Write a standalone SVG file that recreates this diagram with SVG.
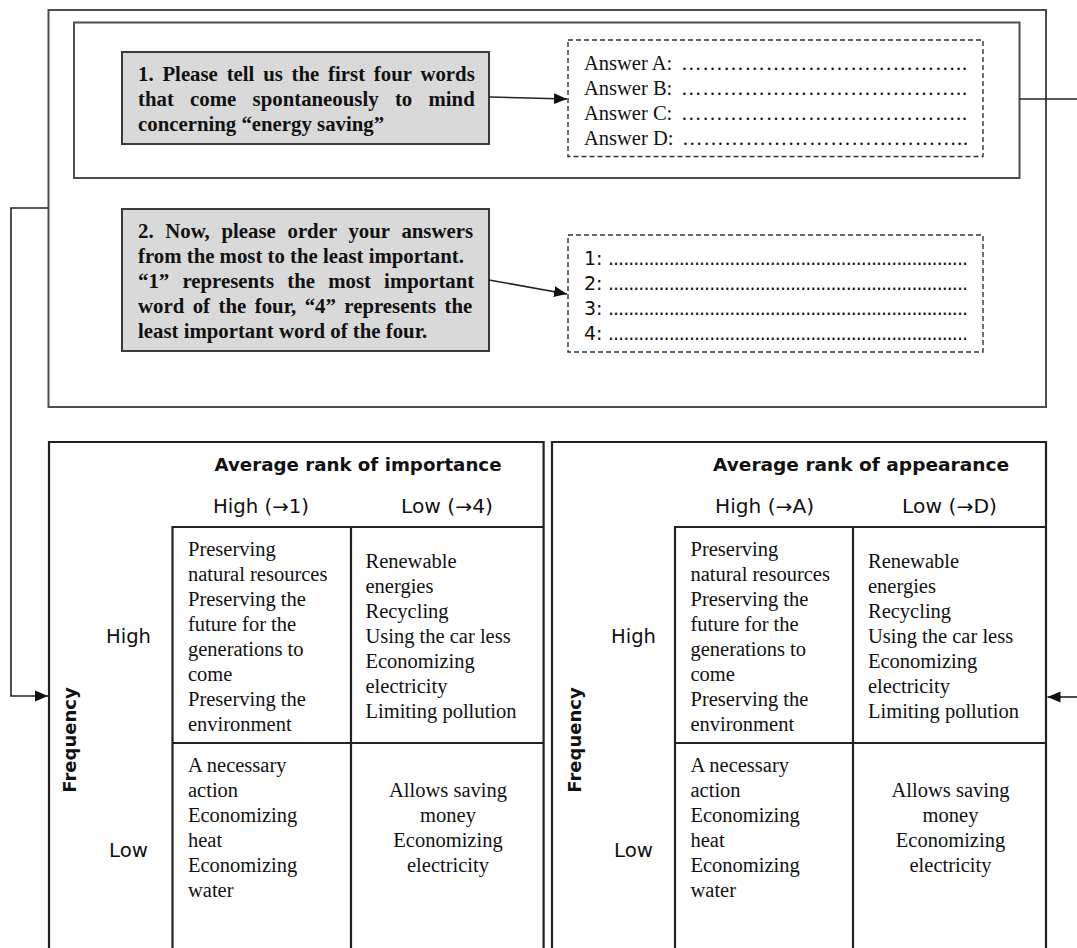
<svg xmlns="http://www.w3.org/2000/svg" width="1077" height="948" viewBox="0 0 1077 948">
<style>
.frame{fill:none;stroke:#4d4d4d;stroke-width:2}
.qbox{fill:#d9d9d9;stroke:#3a3a3a;stroke-width:2}
.dash{fill:none;stroke:#333;stroke-width:1.4;stroke-dasharray:5 3}
.mx{fill:none;stroke:#222;stroke-width:2.2}
.conn{fill:none;stroke:#222;stroke-width:1.6}
.qt{font-family:"Liberation Serif","Times New Roman",serif;font-weight:bold;font-size:20.8px;fill:#111}
.st{font-family:"Liberation Serif","Times New Roman",serif;font-size:20.5px;fill:#111}
.sn{font-family:"DejaVu Sans",Verdana,sans-serif;font-size:19px;fill:#111}
.sb{font-family:"DejaVu Sans",Verdana,sans-serif;font-size:18px;font-weight:bold;fill:#111}
.mid{text-anchor:middle}
</style>
<defs>
<marker id="arr" markerUnits="userSpaceOnUse" markerWidth="14" markerHeight="12" refX="13" refY="6" orient="auto">
<path d="M0,0.5 L13,6 L0,11.5 Z" fill="#111"/>
</marker>
</defs>

<g id="outer-frame">
<rect class="frame" x="48.5" y="10" width="997.5" height="397"/>
</g>

<g id="q1-frame">
<rect class="frame" x="74" y="22.5" width="945.5" height="155.5"/>
</g>

<g id="node-q1">
<rect class="qbox" x="122" y="52" width="367" height="92"/>
<text class="qt" x="138" y="81" word-spacing="3.6">1. Please tell us the first four words</text>
<text class="qt" x="138" y="106" word-spacing="11.1">that come spontaneously to mind</text>
<text class="qt" x="138" y="131">concerning “energy saving”</text>
</g>

<g id="node-answers">
<rect class="dash" x="568" y="40" width="415" height="116.5"/>
<text class="st" x="584" y="69.5">Answer A: <tspan x="681" textLength="286" lengthAdjust="spacing">…………………………………..</tspan></text>
<text class="st" x="584" y="94.5">Answer B: <tspan x="681" textLength="286" lengthAdjust="spacing">…………………………………..</tspan></text>
<text class="st" x="584" y="119.5">Answer C: <tspan x="681" textLength="286" lengthAdjust="spacing">…………………………………..</tspan></text>
<text class="st" x="584" y="144.5">Answer D: <tspan x="682" textLength="286" lengthAdjust="spacing">…………………………………..</tspan></text>
</g>

<g id="node-q2">
<rect class="qbox" x="122" y="209" width="367" height="142"/>
<text class="qt" x="138" y="238" word-spacing="6.5">2. Now, please order your answers</text>
<text class="qt" x="138" y="263">from the most to the least important.</text>
<text class="qt" x="138" y="288" word-spacing="8">“1” represents the most important</text>
<text class="qt" x="138" y="313" word-spacing="3.3">word of the four, “4” represents the</text>
<text class="qt" x="138" y="338">least important word of the four.</text>
</g>

<g id="node-ranks">
<rect class="dash" x="568" y="235" width="415" height="117"/>
<text class="sn" x="584" y="265">1: <tspan x="608" textLength="360" lengthAdjust="spacing">.......................................................................</tspan></text>
<text class="sn" x="584" y="290">2: <tspan x="608" textLength="360" lengthAdjust="spacing">.......................................................................</tspan></text>
<text class="sn" x="584" y="315">3: <tspan x="608" textLength="360" lengthAdjust="spacing">.......................................................................</tspan></text>
<text class="sn" x="584" y="340">4: <tspan x="608" textLength="360" lengthAdjust="spacing">.......................................................................</tspan></text>
</g>

<g id="matrix-importance">
<path class="mx" d="M49,960 V442 H543.6 V960"/>
<path class="mx" d="M172.5,960 V527 H543.6 M351,527 V960 M172.5,743 H543.6"/>
<text class="sb" x="214.5" y="470.5" textLength="287" lengthAdjust="spacingAndGlyphs">Average rank of importance</text>
<text class="sn" x="213" y="513" textLength="96" lengthAdjust="spacingAndGlyphs">High (→1)</text>
<text class="sn" x="401" y="513" textLength="92" lengthAdjust="spacingAndGlyphs">Low (→4)</text>
<text class="sn" x="106" y="643" textLength="45" lengthAdjust="spacingAndGlyphs">High</text>
<text class="sn" x="109" y="857" textLength="39" lengthAdjust="spacingAndGlyphs">Low</text>
<text class="sb mid" transform="translate(75.5,740) rotate(-90)">Frequency</text>
<text class="st" x="188" y="556">Preserving</text>
<text class="st" x="188" y="581">natural resources</text>
<text class="st" x="188" y="606">Preserving the</text>
<text class="st" x="188" y="631">future for the</text>
<text class="st" x="188" y="656">generations to</text>
<text class="st" x="188" y="681">come</text>
<text class="st" x="188" y="706">Preserving the</text>
<text class="st" x="188" y="731">environment</text>
<text class="st" x="365.5" y="568">Renewable</text>
<text class="st" x="365.5" y="593">energies</text>
<text class="st" x="365.5" y="618">Recycling</text>
<text class="st" x="365.5" y="643">Using the car less</text>
<text class="st" x="365.5" y="668">Economizing</text>
<text class="st" x="365.5" y="693">electricity</text>
<text class="st" x="365.5" y="718">Limiting pollution</text>
<text class="st" x="188" y="772">A necessary</text>
<text class="st" x="188" y="797">action</text>
<text class="st" x="188" y="822">Economizing</text>
<text class="st" x="188" y="847">heat</text>
<text class="st" x="188" y="872">Economizing</text>
<text class="st" x="188" y="897">water</text>
<text class="st mid" x="448" y="797">Allows saving</text>
<text class="st mid" x="448" y="822">money</text>
<text class="st mid" x="448" y="847">Economizing</text>
<text class="st mid" x="448" y="872">electricity</text>
</g>

<g id="matrix-appearance">
<path class="mx" d="M552,960 V442 H1046 V960"/>
<path class="mx" d="M675,960 V527 H1046 M853,527 V960 M675,743 H1046"/>
<text class="sb" x="713" y="470.5" textLength="296" lengthAdjust="spacingAndGlyphs">Average rank of appearance</text>
<text class="sn" x="715" y="513" textLength="99" lengthAdjust="spacingAndGlyphs">High (→A)</text>
<text class="sn" x="902" y="513" textLength="95" lengthAdjust="spacingAndGlyphs">Low (→D)</text>
<text class="sn" x="611" y="643" textLength="45" lengthAdjust="spacingAndGlyphs">High</text>
<text class="sn" x="614" y="857" textLength="39" lengthAdjust="spacingAndGlyphs">Low</text>
<text class="sb mid" transform="translate(580.5,740) rotate(-90)">Frequency</text>
<text class="st" x="690.5" y="556">Preserving</text>
<text class="st" x="690.5" y="581">natural resources</text>
<text class="st" x="690.5" y="606">Preserving the</text>
<text class="st" x="690.5" y="631">future for the</text>
<text class="st" x="690.5" y="656">generations to</text>
<text class="st" x="690.5" y="681">come</text>
<text class="st" x="690.5" y="706">Preserving the</text>
<text class="st" x="690.5" y="731">environment</text>
<text class="st" x="868" y="568">Renewable</text>
<text class="st" x="868" y="593">energies</text>
<text class="st" x="868" y="618">Recycling</text>
<text class="st" x="868" y="643">Using the car less</text>
<text class="st" x="868" y="668">Economizing</text>
<text class="st" x="868" y="693">electricity</text>
<text class="st" x="868" y="718">Limiting pollution</text>
<text class="st" x="690.5" y="772">A necessary</text>
<text class="st" x="690.5" y="797">action</text>
<text class="st" x="690.5" y="822">Economizing</text>
<text class="st" x="690.5" y="847">heat</text>
<text class="st" x="690.5" y="872">Economizing</text>
<text class="st" x="690.5" y="897">water</text>
<text class="st mid" x="950.5" y="797">Allows saving</text>
<text class="st mid" x="950.5" y="822">money</text>
<text class="st mid" x="950.5" y="847">Economizing</text>
<text class="st mid" x="950.5" y="872">electricity</text>
</g>

<g id="connectors">
<path class="conn" d="M489,97 L567,99" marker-end="url(#arr)"/>
<path class="conn" d="M489,280 L567,294" marker-end="url(#arr)"/>
<path class="conn" d="M48,208 H11 V696 H48" marker-end="url(#arr)"/>
<path class="conn" d="M1019.5,99 H1077"/>
<path class="conn" d="M1077,697 H1047.5" marker-end="url(#arr)"/>
</g>
</svg>
